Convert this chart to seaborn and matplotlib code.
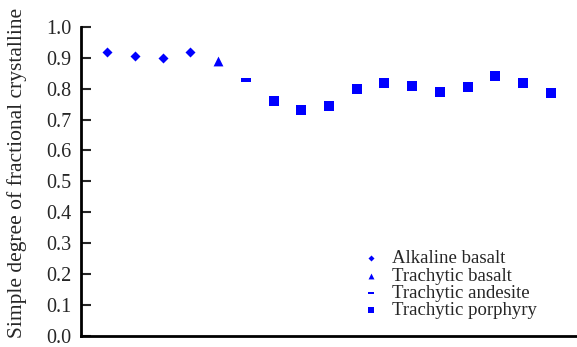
import matplotlib
matplotlib.use("Agg")
import matplotlib.pyplot as plt
import seaborn as sns
import pandas as pd

# Sample sequence and simple degree of fractional crystallisation
rock_types = ["Alkaline basalt", "Trachytic basalt", "Trachytic andesite", "Trachytic porphyry"]
sample_index = list(range(1, 18))
rock_type = (["Alkaline basalt"] * 4 + ["Trachytic basalt"] + ["Trachytic andesite"]
             + ["Trachytic porphyry"] * 11)
degree = [0.92, 0.905, 0.90, 0.92, 0.89, 0.83,
          0.76, 0.73, 0.743, 0.80, 0.82, 0.81, 0.79, 0.807, 0.84, 0.82, 0.785]
y_ticks = [0.0, 0.1, 0.2, 0.3, 0.4, 0.5, 0.6, 0.7, 0.8, 0.9, 1.0]

df = pd.DataFrame({"sample": sample_index, "rock": rock_type, "degree": degree})

sns.set_style("white")
plt.rcParams["font.family"] = ["Liberation Serif", "DejaVu Serif"]

dash = [(-1, -0.32), (1, -0.32), (1, 0.32), (-1, 0.32)]
markers = {"Alkaline basalt": "D", "Trachytic basalt": "^",
           "Trachytic andesite": dash, "Trachytic porphyry": "s"}
sizes = {"Alkaline basalt": 26, "Trachytic basalt": 50,
         "Trachytic andesite": 55, "Trachytic porphyry": 44}

fig = plt.figure(figsize=(5.77, 3.47), dpi=100)
ax = fig.add_axes([0.1404, 0.033, 0.8596, 0.889])

for r in rock_types:
    sub = df[df["rock"] == r]
    sns.scatterplot(data=sub, x="sample", y="degree", ax=ax, color="#0000ff",
                    marker=markers[r], s=sizes[r], linewidth=0, label=r)

ax.set_xlim(0.06, 17.94)
ax.set_ylim(0.0, 1.0)
ax.set_yticks(y_ticks)
ax.set_yticklabels([f"{v:.1f}" for v in y_ticks])
ax.set_xticks([])
ax.set_xlabel("")
ax.set_ylabel("Simple degree of fractional crystalline", fontsize=15.5)
ax.yaxis.set_label_coords(-0.108, 0.528)

for side in ["top", "right"]:
    ax.spines[side].set_visible(False)
for side in ["left", "bottom"]:
    ax.spines[side].set_linewidth(2)
    ax.spines[side].set_color("black")

ax.tick_params(axis="y", direction="in", length=7, width=1.5, labelsize=14.5, pad=7,
               left=True)

leg = ax.legend(loc="lower left", bbox_to_anchor=(0.555, 0.03), frameon=False,
                fontsize=13.5, handletextpad=0.7, labelspacing=0.0, borderaxespad=0,
                handlelength=0.8, markerscale=0.6)

fig.savefig("out.png", dpi=100)
